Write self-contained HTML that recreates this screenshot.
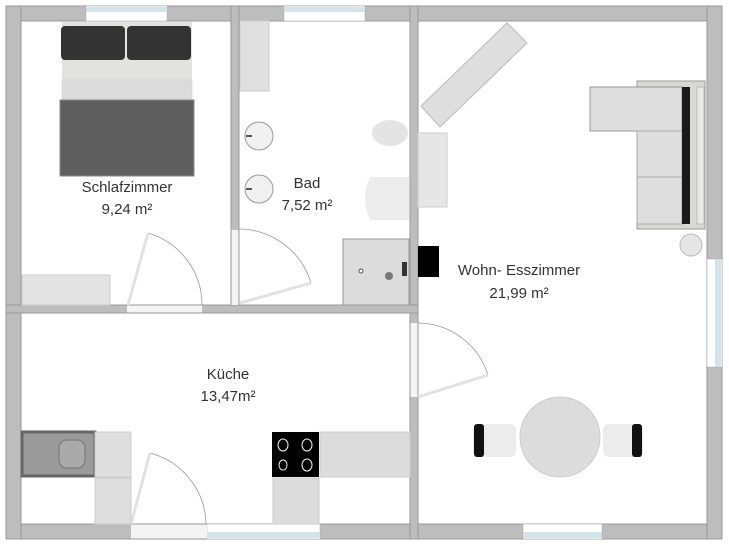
<!DOCTYPE html>
<html><head><meta charset="utf-8"><style>
html,body{margin:0;padding:0;background:#fff;}
svg{display:block;}
text{font-family:"Liberation Sans",sans-serif;font-size:15px;fill:#333;text-anchor:middle;}
</style></head><body>
<svg width="729" height="552" viewBox="0 0 729 552" xmlns="http://www.w3.org/2000/svg">
<rect width="729" height="552" fill="#fff"/>
<!-- walls -->
<g fill="#bdbdbd" stroke="#999" stroke-width="1">
<rect x="6" y="6" width="716" height="15"/>
<rect x="6" y="524" width="716" height="15"/>
<rect x="6" y="6" width="15" height="533"/>
<rect x="707" y="6" width="15" height="533"/>
<rect x="231" y="6" width="8" height="307"/>
<rect x="410" y="6" width="8" height="533"/>
<rect x="6" y="305" width="412" height="8"/>
</g>
<!-- windows -->
<g fill="#fff" stroke="#aaa" stroke-width="0.5">
<rect x="86" y="6" width="81" height="15"/><rect x="284" y="6" width="81" height="15"/>
<rect x="207" y="524" width="113" height="15"/><rect x="523" y="524" width="79" height="15"/>
<rect x="707" y="259" width="15" height="108"/>
</g>
<g fill="#d3e3ea">
<rect x="86" y="7" width="81" height="5"/><rect x="284" y="7" width="81" height="5"/>
<rect x="207" y="532" width="113" height="6"/><rect x="523" y="532" width="79" height="6"/>
<rect x="715" y="259" width="6" height="108"/>
</g>
<!-- door gaps -->
<g fill="#f4f4f4">
<rect x="127" y="305.5" width="75" height="7"/>
<rect x="131" y="524.5" width="76" height="14"/>
<rect x="231.5" y="230" width="7" height="75"/>
<rect x="410.5" y="323" width="7" height="74"/>
</g>
<!-- door swings -->
<g fill="none" stroke="#999" stroke-width="0.8">
<path d="M148,233 A75,75 0 0 1 202,305"/>
<path d="M239,229 A76,76 0 0 1 311,283"/>
<path d="M150,453 A75,75 0 0 1 206,524"/>
<path d="M418,323 A74,74 0 0 1 488,375"/>
</g>
<g stroke="#e2e2e2" stroke-width="3">
<line x1="128" y1="305" x2="148" y2="233"/>
<line x1="240" y1="303" x2="311" y2="283"/>
<line x1="131" y1="524" x2="150" y2="453"/>
<line x1="418" y1="397" x2="488" y2="375"/>
</g>
<!-- bedroom -->
<rect x="62" y="22" width="130" height="58" fill="#e2e2e0"/>
<rect x="61" y="26" width="64" height="34" rx="4" fill="#333"/>
<rect x="127" y="26" width="64" height="34" rx="4" fill="#333"/>
<rect x="62" y="80" width="130" height="20" fill="#dcdcdc" stroke="#ccc" stroke-width="0.5"/>
<rect x="60" y="100" width="134" height="76" fill="#5f5f5f" stroke="#888"/>
<rect x="22" y="275" width="88" height="30" fill="#e3e3e3" stroke="#ccc"/>
<!-- bath -->
<rect x="240" y="21" width="29" height="70" fill="#e0e0e0" stroke="#ccc"/>
<circle cx="259" cy="136" r="14" fill="#f0f0f0" stroke="#999"/>
<circle cx="259" cy="189" r="14" fill="#f0f0f0" stroke="#999"/>
<line x1="246" y1="136" x2="252" y2="136" stroke="#222" stroke-width="1.5"/>
<line x1="246" y1="189" x2="252" y2="189" stroke="#222" stroke-width="1.5"/>
<ellipse cx="390" cy="133" rx="18" ry="13" fill="#e4e4e4"/>
<path d="M370,177 L409,177 L409,220 L370,220 Q360,198 370,177 Z" fill="#ececec"/>
<rect x="343" y="239" width="66" height="66" fill="#dcdcdc" stroke="#999"/>
<circle cx="389" cy="276" r="4" fill="#777"/>
<circle cx="361" cy="271" r="2" fill="#fff" stroke="#555"/>
<rect x="402" y="262" width="5" height="14" fill="#333"/>
<rect x="418" y="246" width="21" height="31" fill="#000"/>
<!-- living -->
<polygon points="421,106 507,23 527,43 440,127" fill="#dedede" stroke="#bbb"/>
<rect x="418" y="133" width="29" height="74" fill="#e6e6e6" stroke="#ccc"/>
<rect x="637" y="81" width="68" height="148" fill="#d8d8d6" stroke="#999"/>
<rect x="590" y="87" width="92" height="44" fill="#dedede" stroke="#999"/>
<rect x="637" y="131" width="45" height="46" fill="#dedede" stroke="#aaa"/>
<rect x="637" y="177" width="45" height="47" fill="#dedede" stroke="#aaa"/>
<rect x="682" y="87" width="8" height="137" fill="#1a1a1a"/>
<rect x="697" y="87" width="7" height="137" fill="#e8e8e8" stroke="#999" stroke-width="0.5"/>
<circle cx="691" cy="245" r="11" fill="#e6e6e6" stroke="#bbb"/>
<ellipse cx="560" cy="437" rx="40" ry="40" fill="#dcdcdc" stroke="#ccc"/>
<rect x="473" y="424" width="43" height="33" rx="6" fill="#ececec"/>
<rect x="474" y="424" width="10" height="33" rx="3" fill="#111"/>
<rect x="603" y="424" width="40" height="33" rx="6" fill="#ececec"/>
<rect x="632" y="424" width="10" height="33" rx="3" fill="#111"/>
<!-- kitchen -->
<rect x="22" y="432" width="73" height="44" fill="#9a9a9a" stroke="#666" stroke-width="3"/>
<rect x="59" y="440" width="26" height="28" rx="8" fill="#aaa" stroke="#777"/>
<rect x="95" y="432" width="36" height="45" fill="#dedede" stroke="#ccc"/>
<rect x="95" y="478" width="36" height="46" fill="#dedede" stroke="#ccc"/>
<rect x="320" y="432" width="90" height="45" fill="#dcdcdc" stroke="#ccc"/>
<rect x="273" y="478" width="46" height="46" fill="#dcdcdc" stroke="#ccc"/>
<rect x="272" y="432" width="47" height="45" fill="#000"/>
<g fill="none" stroke="#eee" stroke-width="1">
<ellipse cx="283" cy="445" rx="5" ry="6"/><ellipse cx="307" cy="445" rx="5" ry="6"/>
<ellipse cx="283" cy="465" rx="4" ry="5"/><ellipse cx="307" cy="465" rx="5" ry="6"/>
</g>
<!-- labels -->
<text x="127" y="192">Schlafzimmer</text>
<text x="127" y="214">9,24 m²</text>
<text x="307" y="188">Bad</text>
<text x="307" y="210">7,52 m²</text>
<text x="519" y="275">Wohn- Esszimmer</text>
<text x="519" y="298">21,99 m²</text>
<text x="228" y="379">Küche</text>
<text x="228" y="401">13,47m²</text>
</svg>
</body></html>
